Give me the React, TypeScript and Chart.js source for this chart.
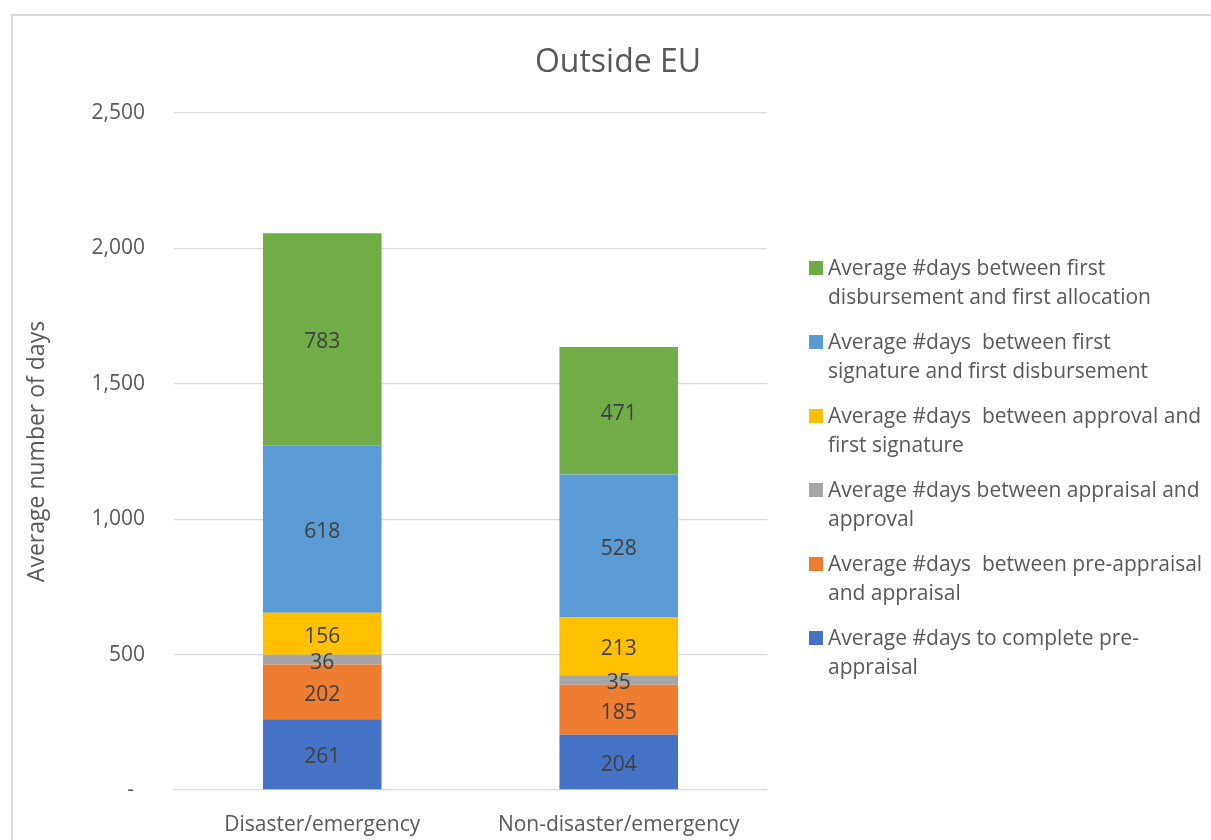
import React, { useEffect, useRef } from "react";
import { Chart, registerables } from "chart.js";

Chart.register(...registerables);

const chartTitle = "Outside EU";
const yAxisTitle = "Average number of days";
const categories = ["Disaster/emergency", "Non-disaster/emergency"];

const seriesNames = [
  "Average #days to complete pre-appraisal",
  "Average #days  between pre-appraisal and appraisal",
  "Average #days between appraisal and approval",
  "Average #days  between approval and first signature",
  "Average #days  between first signature and first disbursement",
  "Average #days between first disbursement and first allocation",
];
const legendLines = [
  ["Average #days to complete pre-", "appraisal"],
  ["Average #days  between pre-appraisal", "and appraisal"],
  ["Average #days between appraisal and", "approval"],
  ["Average #days  between approval and", "first signature"],
  ["Average #days  between first", "signature and first disbursement"],
  ["Average #days between first", "disbursement and first allocation"],
];
const seriesColors = ["#4472C4", "#ED7D31", "#A5A5A5", "#FFC000", "#5B9BD5", "#70AD47"];

const preAppraisal = [261, 204];
const preToAppraisal = [202, 185];
const appraisalToApproval = [36, 35];
const approvalToSignature = [156, 213];
const signatureToDisbursement = [618, 528];
const disbursementToAllocation = [783, 471];
const seriesValues = [
  preAppraisal,
  preToAppraisal,
  appraisalToApproval,
  approvalToSignature,
  signatureToDisbursement,
  disbursementToAllocation,
];

const yTickValues = [0, 500, 1000, 1500, 2000, 2500];
const yTickLabels = ["-  ", "500", "1,000", "1,500", "2,000", "2,500"];

const FONT = "'Open Sans', sans-serif";
const TEXT = "#595959";

const dataLabelPlugin = {
  id: "dataLabels",
  afterDatasetsDraw(chart: any) {
    const ctx = chart.ctx;
    ctx.save();
    ctx.font = `21px ${FONT}`;
    ctx.fillStyle = "#404040";
    ctx.textAlign = "center";
    ctx.textBaseline = "middle";
    chart.data.datasets.forEach((ds: any, di: number) => {
      const meta = chart.getDatasetMeta(di);
      meta.data.forEach((el: any, i: number) => {
        const y = (el.y + el.base) / 2;
        ctx.fillText(String(ds.data[i]), el.x, y + 3);
      });
    });
    ctx.restore();
  },
};

const legendPlugin = {
  id: "sideLegend",
  afterDraw(chart: any) {
    const ctx = chart.ctx;
    const area = chart.chartArea;
    const boxX = area.right + 42;
    const textX = boxX + 19;
    const startY = 268;
    const itemStep = 74;
    const lineStep = 29;
    ctx.save();
    ctx.font = `21px ${FONT}`;
    ctx.textAlign = "left";
    ctx.textBaseline = "middle";
    const n = chart.data.datasets.length;
    for (let k = 0; k < n; k++) {
      const di = n - 1 - k;
      const ds = chart.data.datasets[di];
      const cy = startY + k * itemStep;
      ctx.fillStyle = ds.backgroundColor;
      ctx.fillRect(boxX, cy - 7, 14, 14);
      ctx.fillStyle = TEXT;
      legendLines[di].forEach((line, li) => {
        ctx.fillText(line, textX, cy + 1 + li * lineStep);
      });
    }
    ctx.restore();
  },
};

export default function App() {
  const ref = useRef<HTMLCanvasElement | null>(null);
  useEffect(() => {
    if (!ref.current) return;
    const chart = new Chart(ref.current, {
      type: "bar",
      data: {
        labels: categories,
        datasets: seriesValues.map((vals, i) => ({
          label: seriesNames[i],
          data: vals,
          backgroundColor: seriesColors[i],
          borderWidth: 0,
          barPercentage: 0.4,
          categoryPercentage: 1,
          yAxisID: "y",
        })),
      },
      options: {
        animation: false,
        responsive: false,
        devicePixelRatio: 1,
        layout: { padding: { left: 12, right: 0, top: 0, bottom: 0 } },
        plugins: {
          legend: { display: false },
          tooltip: { enabled: false },
          title: {
            display: true,
            text: chartTitle,
            color: TEXT,
            font: { family: FONT, size: 32, weight: "normal" },
            padding: { top: 44, bottom: 30.6 },
          },
        },
        scales: {
          x: {
            stacked: true,
            grid: { display: false },
            border: { display: false },
            ticks: { color: TEXT, font: { family: FONT, size: 21 }, padding: 14 },
            afterFit: (s: any) => {
              s.height = 50;
            },
          },
          y: {
            stacked: true,
            position: "left",
            min: 0,
            max: 2500,
            grid: { color: "#d9d9d9", lineWidth: 1.3, drawTicks: false },
            border: { display: false },
            ticks: {
              stepSize: 500,
              padding: 29,
              color: TEXT,
              font: { family: FONT, size: 21 },
              callback: (v: any) => {
                const idx = yTickValues.indexOf(Number(v));
                return idx >= 0 ? yTickLabels[idx] : String(v);
              },
            },
            title: {
              display: true,
              text: yAxisTitle,
              color: TEXT,
              font: { family: FONT, size: 23 },
              padding: { top: 12, bottom: 0 },
            },
            afterFit: (s: any) => {
              s.width = 162;
            },
          },
          yR: {
            position: "right",
            display: true,
            grid: { display: false },
            border: { display: false },
            ticks: { display: false },
            afterFit: (s: any) => {
              s.width = 1224 - 767;
            },
          },
        },
      },
      plugins: [dataLabelPlugin, legendPlugin],
    } as any);
    return () => chart.destroy();
  }, []);

  return (
    <div
      style={{
        position: "fixed",
        left: 0,
        top: 0,
        width: 1211,
        height: 840,
        overflow: "hidden",
        background: "#fff",
      }}
    >
      <div
        style={{
          position: "absolute",
          left: 11,
          top: 14,
          width: 1300,
          height: 900,
          border: "2px solid #d9d9d9",
        }}
      />
      <div style={{ position: "absolute", left: 0, top: 0, width: 1224, height: 840 }}>
        <canvas ref={ref} width={1224} height={840} style={{ width: 1224, height: 840, display: "block" }} />
      </div>
    </div>
  );
}
